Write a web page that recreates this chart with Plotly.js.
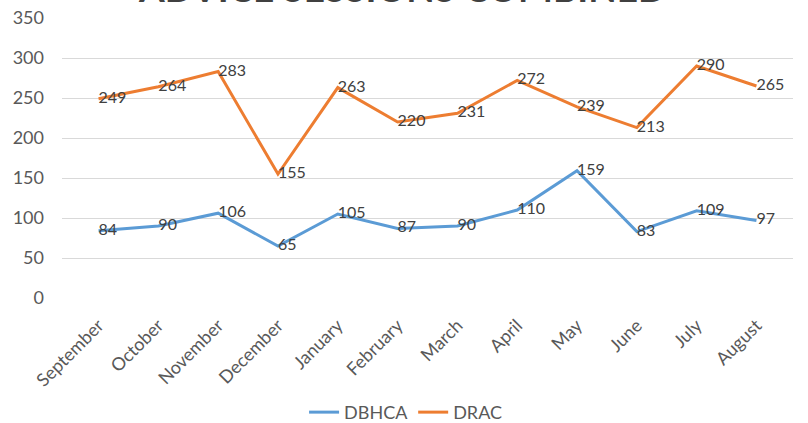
<!DOCTYPE html>
<html>
<head>
<meta charset="utf-8">
<script src="https://cdn.plot.ly/plotly-3.0.1.min.js"></script>
<style>html,body{margin:0;padding:0;background:#fff;}#chart{width:808px;height:423px;}</style>
</head>
<body>
<div id="chart"></div>
<script>
var months = ["September","October","November","December","January","February","March","April","May","June","July","August"];
var dbhca = [84, 90, 106, 65, 105, 87, 90, 110, 159, 83, 109, 97];
var drac = [249, 264, 283, 155, 263, 220, 231, 272, 239, 213, 290, 265];
var yTicks = [0, 50, 100, 150, 200, 250, 300, 350];
var titleText = "ADVICE SESSIONS COMBINED";

var fontFam = "Lato, 'Open Sans', sans-serif";
var gray = "#595959";

function series(name, vals, color) {
  return {
    type: "scatter",
    mode: "lines+text",
    name: name,
    x: months,
    y: vals,
    text: vals.map(String),
    textposition: "middle right",
    textfont: {family: fontFam, size: 16, color: "#404040"},
    line: {color: color, width: 3},
    cliponaxis: false,
    hoverinfo: "skip"
  };
}

var data = [series("DBHCA", dbhca, "#5B9BD5"), series("DRAC", drac, "#ED7D31")];

var layout = {
  width: 808,
  height: 423,
  margin: {l: 62, r: 15, t: 18, b: 125, autoexpand: false},
  paper_bgcolor: "#ffffff",
  plot_bgcolor: "#ffffff",
  font: {family: fontFam, color: gray},
  showlegend: true,
  legend: {
    orientation: "h",
    x: 0.47,
    xanchor: "center",
    yref: "container",
    y: 0.025,
    yanchor: "middle",
    font: {family: fontFam, size: 18, color: gray},
    itemwidth: 30,
    tracegroupgap: 0
  },
  xaxis: {
    type: "category",
    tickangle: -45,
    tickfont: {family: fontFam, size: 18, color: gray},
    showgrid: false,
    showline: false,
    zeroline: false,
    ticks: "outside",
    ticklen: 9,
    tickcolor: "rgba(0,0,0,0)",
    fixedrange: true
  },
  yaxis: {
    range: [0, 350],
    tickvals: yTicks,
    ticktext: yTicks.map(String),
    tickfont: {family: fontFam, size: 18, color: gray},
    showgrid: true,
    gridcolor: "#d9d9d9",
    gridwidth: 1,
    zeroline: false,
    showline: false,
    ticks: "",
    ticklabelstandoff: 17,
    fixedrange: true
  },
  annotations: [{
    text: "<b>" + titleText + "</b>",
    xref: "paper",
    yref: "paper",
    x: 0.465,
    y: 1.02,
    xanchor: "center",
    yanchor: "bottom",
    showarrow: false,
    font: {family: fontFam, size: 37, color: "#404040"}
  }]
};

Plotly.newPlot("chart", data, layout, {displayModeBar: false, staticPlot: true});
</script>
</body>
</html>
